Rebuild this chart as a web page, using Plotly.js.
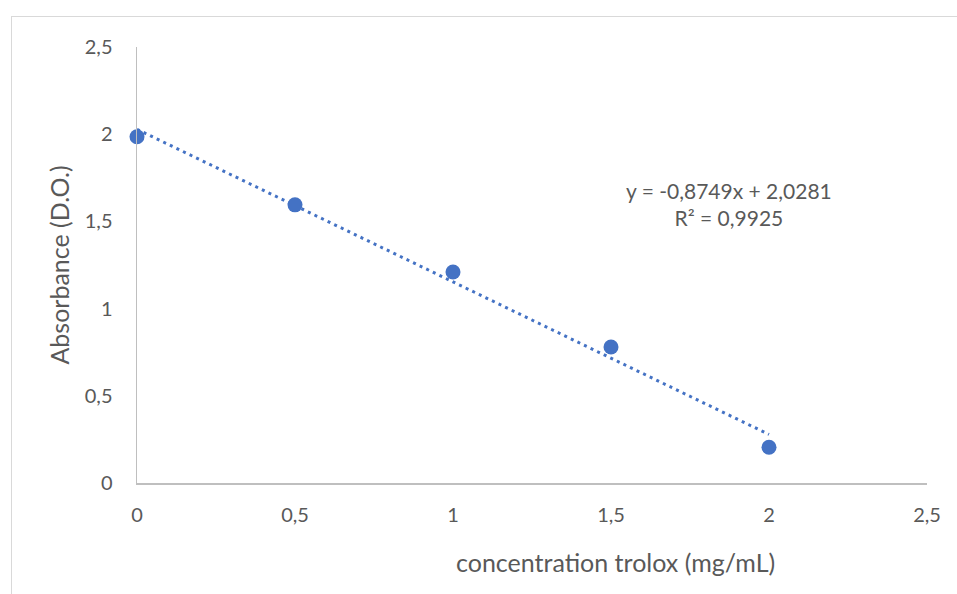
<!DOCTYPE html>
<html>
<head>
<meta charset="utf-8">
<script src="https://cdn.plot.ly/plotly-3.0.1.min.js"></script>
<style>
  html, body { margin: 0; padding: 0; background: #fff; }
  #frame { position: absolute; left: 11px; top: 16px; width: 960px; height: 600px; border: 1.5px solid #d9d9d9; box-sizing: border-box; }
  #chart { position: absolute; left: 0; top: 0; width: 957px; height: 594px; }
</style>
</head>
<body>
<div id="frame"></div>
<div id="chart"></div>
<script>
const concentration = [0, 0.5, 1, 1.5, 2];
const absorbance = [1.985, 1.595, 1.21, 0.78, 0.205];
const trendX = [0, 2];
const trendY = [2.0281, 0.2783];
const xTicks = [0, 0.5, 1, 1.5, 2, 2.5];
const yTicks = [0, 0.5, 1, 1.5, 2, 2.5];
const equationText = 'y = -0,8749x + 2,0281<br>R² = 0,9925';

const FONT = 'Lato, "Open Sans", sans-serif';
const data = [
  {
    x: trendX, y: trendY, type: 'scatter', mode: 'lines',
    line: { color: '#4472C4', width: 3, dash: '3px,4.3px' },
    hoverinfo: 'skip', showlegend: false
  },
  {
    x: concentration, y: absorbance, type: 'scatter', mode: 'markers',
    marker: { color: '#4472C4', size: 15 },
    showlegend: false, cliponaxis: false
  }
];
const layout = {
  width: 957, height: 594,
  margin: { l: 137, r: 30, t: 47, b: 111 },
  paper_bgcolor: 'rgba(0,0,0,0)', plot_bgcolor: 'rgba(0,0,0,0)',
  separators: ', ',
  font: { family: FONT, color: '#595959', size: 20 },
  showlegend: false,
  xaxis: {
    range: [0, 2.5], tickvals: xTicks, showgrid: false, zeroline: false,
    showline: true, linecolor: '#bfbfbf', linewidth: 1.5,
    ticks: 'outside', ticklen: 13, tickcolor: 'rgba(0,0,0,0)',
    tickfont: { family: FONT, size: 20, color: '#595959' }
  },
  yaxis: {
    range: [0, 2.5], tickvals: yTicks, showgrid: false, zeroline: false,
    showline: true, linecolor: '#bfbfbf', linewidth: 1.5,
    ticks: 'outside', ticklen: 19, tickcolor: 'rgba(0,0,0,0)',
    tickfont: { family: FONT, size: 20, color: '#595959' },
    title: { text: 'Absorbance (D.O.)', font: { family: FONT, size: 25, color: '#595959' }, standoff: 8 }
  },
  annotations: [
    {
      text: 'concentration trolox (mg/mL)', xref: 'paper', yref: 'paper',
      x: (615 - 137) / 790, y: -(562 - 483) / 436, xanchor: 'center', yanchor: 'middle',
      showarrow: false, font: { family: FONT, size: 25, color: '#595959' }
    },
    {
      text: equationText, xref: 'paper', yref: 'paper',
      x: (729 - 137) / 790, y: (483 - 204) / 436, xanchor: 'center', yanchor: 'middle',
      showarrow: false, align: 'center', font: { family: FONT, size: 21, color: '#595959' }
    }
  ]
};
Plotly.newPlot('chart', data, layout, { displayModeBar: false, staticPlot: true });
</script>
</body>
</html>
